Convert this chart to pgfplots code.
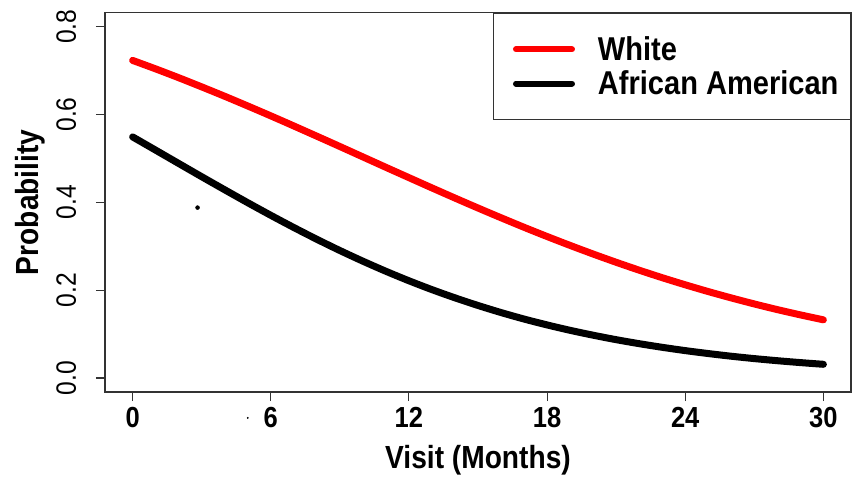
\documentclass[border=0pt]{standalone}
\usepackage{fontspec}
\setmainfont[FakeStretch=0.88]{Liberation Sans}
\usepackage{pgfplots}
\pgfplotsset{compat=1.18}
\begin{document}
\begin{tikzpicture}
\useasboundingbox (-105pt,-88pt) rectangle (748pt,392pt);
\begin{axis}[
  at={(0pt,0pt)}, anchor=south west,
  scale only axis, width=746pt, height=379.3pt,
  xmin=-1.2, xmax=31.2, ymin=-0.032, ymax=0.832,
  xtick={0,6,12,18,24,30}, ytick={0,0.2,0.4,0.6,0.8},
  tick align=outside, xtick pos=left, ytick pos=left,
  major tick length=9pt,
  axis line style={line width=1.1pt, black!80},
  every tick/.style={line width=1.1pt, black!80},
  clip=false,
  /pgf/number format/assume math mode=true,
  yticklabel style={/pgf/number format/fixed, /pgf/number format/fixed zerofill, /pgf/number format/precision=1},
  tick label style={inner sep=0pt},
  xticklabel style={font=\fontsize{29}{34}\selectfont\bfseries, anchor=base, yshift=-26pt},
  yticklabel style={font=\fontsize{28}{34}\selectfont, xshift=-20pt, rotate=90, anchor=base},
  xlabel={Visit (Months)}, ylabel={Probability},
  every axis x label/.style={at={(axis description cs:0.5,0)}, yshift=-68pt, anchor=center,
    font=\fontsize{32}{38}\selectfont\bfseries},
  every axis y label/.style={at={(axis description cs:0,0.5)}, xshift=-75pt, rotate=90, anchor=center,
    font=\fontsize{32}{38}\selectfont\bfseries},
  legend cell align=left,
  legend image code/.code={\path (0pt,0pt); \draw[#1, line width=6pt, line cap=round] (7pt,0pt) -- (63pt,0pt);},
  legend style={at={(1,1)}, anchor=north east, draw=black!80, line width=1.1pt,
    font=\fontsize{33}{40}\selectfont\bfseries, inner xsep=12pt, inner ysep=23.5pt,
    row sep=8.7pt, column sep=23pt, nodes={inner sep=0pt}},
]
\addplot[red, line width=7pt, line cap=round, smooth] table {
x y
0 0.7233
1 0.7040
2 0.6839
3 0.6630
4 0.6416
5 0.6195
6 0.5970
7 0.5740
8 0.5507
9 0.5272
10 0.5035
11 0.4798
12 0.4563
13 0.4329
14 0.4098
15 0.3871
16 0.3649
17 0.3432
18 0.3222
19 0.3019
20 0.2823
21 0.2635
22 0.2455
23 0.2284
24 0.2122
25 0.1968
26 0.1823
27 0.1686
28 0.1557
29 0.1437
30 0.1324
};
\addlegendentry{White}
\addplot[black, line width=7pt, line cap=round, smooth] table {
x y
0 0.5491
1 0.5189
2 0.4886
3 0.4584
4 0.4286
5 0.3992
6 0.3705
7 0.3427
8 0.3159
9 0.2903
10 0.2660
11 0.2430
12 0.2214
13 0.2012
14 0.1825
15 0.1651
16 0.1490
17 0.1342
18 0.1208
19 0.1085
20 0.0974
21 0.0872
22 0.0781
23 0.0698
24 0.0623
25 0.0556
26 0.0495
27 0.0441
28 0.0393
29 0.0350
30 0.0311
};
\addlegendentry{African American}
\addplot[black, only marks, mark=*, mark size=2pt, forget plot] coordinates {(2.82,0.388)};
\addplot[black, only marks, mark=*, mark size=0.7pt, forget plot] coordinates {(5.0,-0.091)};
\end{axis}
\end{tikzpicture}
\end{document}
